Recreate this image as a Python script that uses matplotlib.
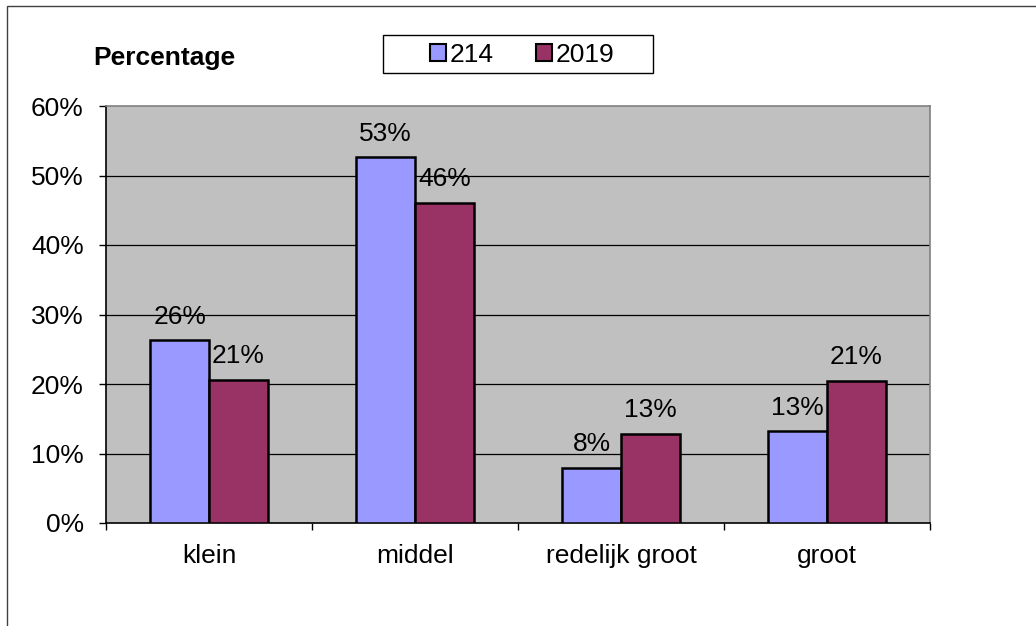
import matplotlib
matplotlib.use("Agg")
import matplotlib.pyplot as plt
from matplotlib.patches import Patch, Rectangle
import numpy as np

categories = ["klein", "middel", "redelijk groot", "groot"]
series_names = ["214", "2019"]
values_214 = [26.3, 52.6, 7.9, 13.2]
values_2019 = [20.6, 46.1, 12.8, 20.5]
labels_214 = ["26%", "53%", "8%", "13%"]
labels_2019 = ["21%", "46%", "13%", "21%"]
yticks = [0, 10, 20, 30, 40, 50, 60]
ytick_labels = ["0%", "10%", "20%", "30%", "40%", "50%", "60%"]

plt.rcParams['font.family'] = ['Liberation Sans', 'DejaVu Sans']
FS = 19
W, H = 1036, 626
fig = plt.figure(figsize=(W / 100, H / 100), dpi=100)
fig.patch.set_facecolor("white")

# figure border (left & top visible)
fig.patches.append(Rectangle((7 / W, -0.1), 1.2, 1 - 6 / H + 0.1, transform=fig.transFigure,
                             fill=False, edgecolor="#404040", linewidth=1.0))

ax = fig.add_axes([106 / W, 1 - 523 / H, (930 - 106) / W, (523 - 106) / H])
ax.set_facecolor("#C0C0C0")

x = np.arange(len(categories))
bw = 1 / 3.5
c1, c2 = "#9999FF", "#993366"
ax.bar(x - bw / 2, values_214, bw, color=c1, edgecolor="black", linewidth=1.8, zorder=3)
ax.bar(x + bw / 2, values_2019, bw, color=c2, edgecolor="black", linewidth=1.8, zorder=3)

for xi, v, lab in zip(x - bw / 2, values_214, labels_214):
    ax.annotate(lab, (xi, v), xytext=(0, 12), textcoords="offset points",
                ha="center", va="baseline", fontsize=FS, zorder=4)
for xi, v, lab in zip(x + bw / 2, values_2019, labels_2019):
    ax.annotate(lab, (xi, v), xytext=(0, 12), textcoords="offset points",
                ha="center", va="baseline", fontsize=FS, zorder=4)

ax.set_xlim(-0.5, len(categories) - 0.5)
ax.set_ylim(0, 60)
ax.set_yticks(yticks)
ax.set_yticklabels(ytick_labels, fontsize=FS)
ax.tick_params(axis="y", length=5, width=1, pad=11, direction="out", color="black")
ax.set_xticks(np.arange(-0.5, len(categories), 1.0))
ax.set_xticklabels([])
ax.set_xticks(x, minor=True)
ax.set_xticklabels(categories, minor=True, fontsize=FS)
ax.tick_params(axis="x", which="major", length=5, width=1, direction="out")
ax.tick_params(axis="x", which="minor", length=0, pad=15)

for yv in yticks[1:-1]:
    ax.axhline(yv, color="black", linewidth=0.9, zorder=1)

ax.spines["left"].set_color("black")
ax.spines["bottom"].set_color("black")
ax.spines["top"].set_color("#808080")
ax.spines["right"].set_color("#808080")
for s in ax.spines.values():
    s.set_linewidth(1.2)

fig.text(93 / W, 1 - 65 / H, "Percentage", fontsize=FS, fontweight="bold", ha="left", va="baseline")

# legend
handles = [Patch(facecolor=c1, edgecolor="black", linewidth=1.5),
           Patch(facecolor=c2, edgecolor="black", linewidth=1.5)]
fig.legend(handles, series_names, loc="center", bbox_to_anchor=(522 / W, 1 - 55 / H),
           ncol=2, frameon=False, fontsize=FS, handlelength=0.62, handleheight=0.62,
           handletextpad=0.12, columnspacing=1.6, borderpad=0)
fig.patches.append(Rectangle((383 / W, 1 - 73 / H), 270 / W, 38 / H, transform=fig.transFigure,
                             fill=False, edgecolor="black", linewidth=1.0))

fig.savefig("out.png", dpi=100)
